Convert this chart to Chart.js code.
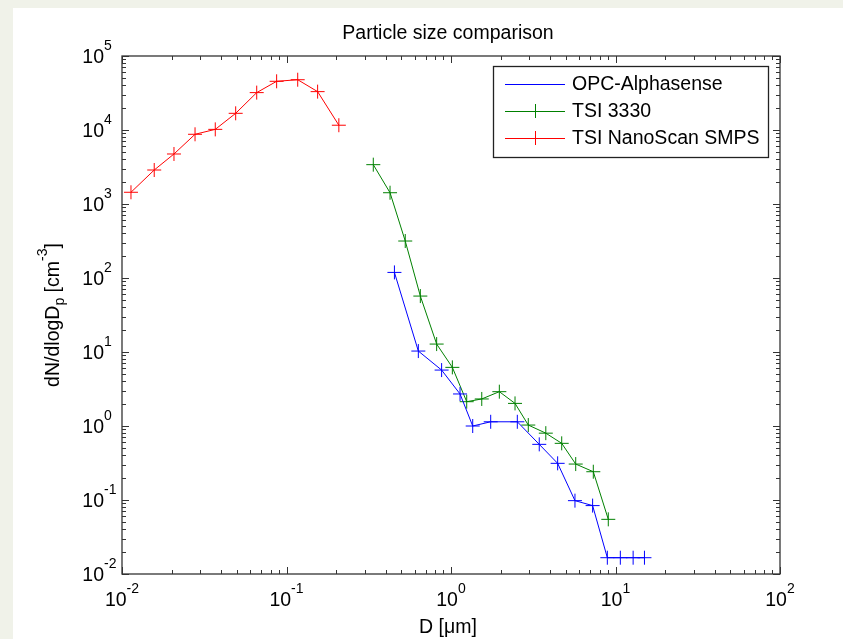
<!DOCTYPE html>
<html>
<head>
<meta charset="utf-8">
<script src="https://cdn.jsdelivr.net/npm/chart.js@4.4.0/dist/chart.umd.min.js"></script>
<style>
  html, body { margin: 0; padding: 0; background: #f0f2e9; }
  #wrap { position: absolute; left: 13px; top: 8px; width: 830px; height: 631px; background: #fff; }
</style>
</head>
<body>
<div id="wrap"><canvas id="myChart" width="830" height="631"></canvas></div>
<script>
// particle diameter [um] and dN/dlogDp [cm-3] per instrument
var opcD  = [0.453, 0.633, 0.877, 1.135, 1.355, 1.743, 2.53, 3.44, 4.45, 5.67, 7.26, 8.92, 10.7, 12.8, 15.0];
var opcN  = [119, 10.3, 5.7, 2.71, 1.0, 1.14, 1.14, 0.565, 0.313, 0.098, 0.084, 0.0166, 0.0166, 0.0166, 0.0166];

var tsiD  = [0.337, 0.426, 0.527, 0.651, 0.818, 1.019, 1.246, 1.538, 1.967, 2.45, 2.95, 3.77, 4.71, 5.73, 7.33, 9.04];
var tsiN  = [3400, 1420, 316, 57, 12.8, 6.2, 2.13, 2.32, 2.91, 2.02, 1.03, 0.80, 0.583, 0.306, 0.241, 0.0548];

var smpsD = [0.01134, 0.0157, 0.0207, 0.0278, 0.0369, 0.0491, 0.0659, 0.0871, 0.117, 0.1546, 0.2081];
var smpsN = [1440, 2880, 4740, 8750, 10200, 16800, 32000, 45500, 47800, 33000, 11600];

var labels = ['OPC-Alphasense', 'TSI 3330', 'TSI NanoScan SMPS'];
var colors = ['#0000ff', '#008000', '#ff0000'];
var legendMarker = [false, true, true];

var xDecades = [-2, -1, 0, 1, 2];
var yDecades = [-2, -1, 0, 1, 2, 3, 4, 5];

var FONT = '"Liberation Sans", Arial, sans-serif';

function pts(xs, ys) {
  var out = [];
  for (var i = 0; i < xs.length; i++) out.push({x: xs[i], y: ys[i]});
  return out;
}

function series(i, xs, ys) {
  return {
    label: labels[i],
    data: pts(xs, ys),
    showLine: true,
    borderColor: colors[i],
    backgroundColor: colors[i],
    borderWidth: 1,
    pointStyle: 'cross',
    pointRadius: 7,
    pointBorderWidth: 1,
    pointHoverRadius: 7
  };
}

var decor = {
  id: 'decor',
  afterDraw: function(chart) {
    var c = chart.ctx, a = chart.chartArea;
    var xs = chart.scales.x, ys = chart.scales.y;
    c.save();
    c.strokeStyle = '#333';
    c.lineWidth = 1.3;
    c.strokeRect(a.left, a.top, a.right - a.left, a.bottom - a.top);

    // ticks on all four sides, pointing inward
    c.lineWidth = 1;
    c.beginPath();
    xDecades.forEach(function(d) {
      for (var m = 1; m <= 9; m++) {
        var v = m * Math.pow(10, d);
        if (v > 100) break;
        var px = Math.round(xs.getPixelForValue(v)) + 0.5;
        var len = m === 1 ? 7 : 4;
        c.moveTo(px, a.bottom); c.lineTo(px, a.bottom - len);
        c.moveTo(px, a.top); c.lineTo(px, a.top + len);
      }
    });
    yDecades.forEach(function(d) {
      for (var m = 1; m <= 9; m++) {
        var v = m * Math.pow(10, d);
        if (v > 1e5) break;
        var py = Math.round(ys.getPixelForValue(v)) + 0.5;
        var len = m === 1 ? 7 : 4;
        c.moveTo(a.left, py); c.lineTo(a.left + len, py);
        c.moveTo(a.right, py); c.lineTo(a.right - len, py);
      }
    });
    c.stroke();

    // tick labels 10^n
    c.fillStyle = '#000';
    c.textBaseline = 'alphabetic';
    var big = '19.5px ' + FONT, small = '14px ' + FONT;
    xDecades.forEach(function(d) {
      var px = xs.getPixelForValue(Math.pow(10, d));
      c.font = big; var w1 = c.measureText('10').width;
      c.font = small; var w2 = c.measureText(String(d)).width;
      var x0 = px - (w1 + w2) / 2;
      c.textAlign = 'left';
      c.font = big; c.fillText('10', x0, a.bottom + 32);
      c.font = small; c.fillText(String(d), x0 + w1, a.bottom + 19);
    });
    yDecades.forEach(function(d) {
      var py = ys.getPixelForValue(Math.pow(10, d));
      var xr = a.left - 18;
      c.font = big; c.textAlign = 'right'; c.fillText('10', xr, py + 7);
      c.font = small; c.textAlign = 'left'; c.fillText(String(d), xr, py - 6);
    });

    // title and axis titles
    c.textAlign = 'center';
    c.font = '19.5px ' + FONT;
    c.fillText('Particle size comparison', (a.left + a.right) / 2 - 3, 31);
    c.fillText('D [\u03bcm]', (a.left + a.right) / 2 - 3, a.bottom + 59);

    c.save();
    c.translate(46, (a.top + a.bottom) / 2);
    c.rotate(-Math.PI / 2);
    var parts = [['dN/dlogD', big, 0], ['p', small, 5], [' [cm', big, 0], ['-3', small, -12], [']', big, 0]];
    var total = 0;
    parts.forEach(function(p) { c.font = p[1]; total += c.measureText(p[0]).width; });
    var x = -total / 2;
    c.textAlign = 'left';
    parts.forEach(function(p) {
      c.font = p[1];
      c.fillText(p[0], x, p[2]);
      x += c.measureText(p[0]).width;
    });
    c.restore();

    // legend box
    var lx = a.right - 287, ly = a.top + 10, lw = 275, lh = 91;
    c.fillStyle = '#fff';
    c.fillRect(lx, ly, lw, lh);
    c.strokeStyle = '#222';
    c.lineWidth = 1.3;
    c.strokeRect(lx + 0.5, ly + 0.5, lw, lh);
    c.font = '19.5px ' + FONT;
    c.textAlign = 'left';
    c.textBaseline = 'middle';
    for (var i = 0; i < labels.length; i++) {
      var ey = ly + 18 + i * 27;
      c.strokeStyle = colors[i];
      c.lineWidth = 1;
      c.beginPath();
      c.moveTo(lx + 12, ey + 0.5); c.lineTo(lx + 72, ey + 0.5);
      if (legendMarker[i]) {
        c.moveTo(lx + 42.5, ey - 7); c.lineTo(lx + 42.5, ey + 7);
      }
      c.stroke();
      c.fillStyle = '#000';
      c.fillText(labels[i], lx + 79, ey + 1);
    }
    c.restore();
  }
};

var ctx = document.getElementById('myChart');
var myChart = new Chart(ctx, {
  type: 'scatter',
  data: {
    datasets: [
      series(0, opcD, opcN),
      series(1, tsiD, tsiN),
      series(2, smpsD, smpsN)
    ]
  },
  options: {
    responsive: false,
    animation: false,
    layout: { padding: { left: 109, right: 63, top: 48, bottom: 65 } },
    plugins: {
      legend: { display: false },
      title: { display: false },
      tooltip: { enabled: false }
    },
    scales: {
      x: { type: 'logarithmic', min: 0.01, max: 100, display: false },
      y: { type: 'logarithmic', min: 0.01, max: 100000, display: false }
    }
  },
  plugins: [decor]
});
</script>
</body>
</html>
